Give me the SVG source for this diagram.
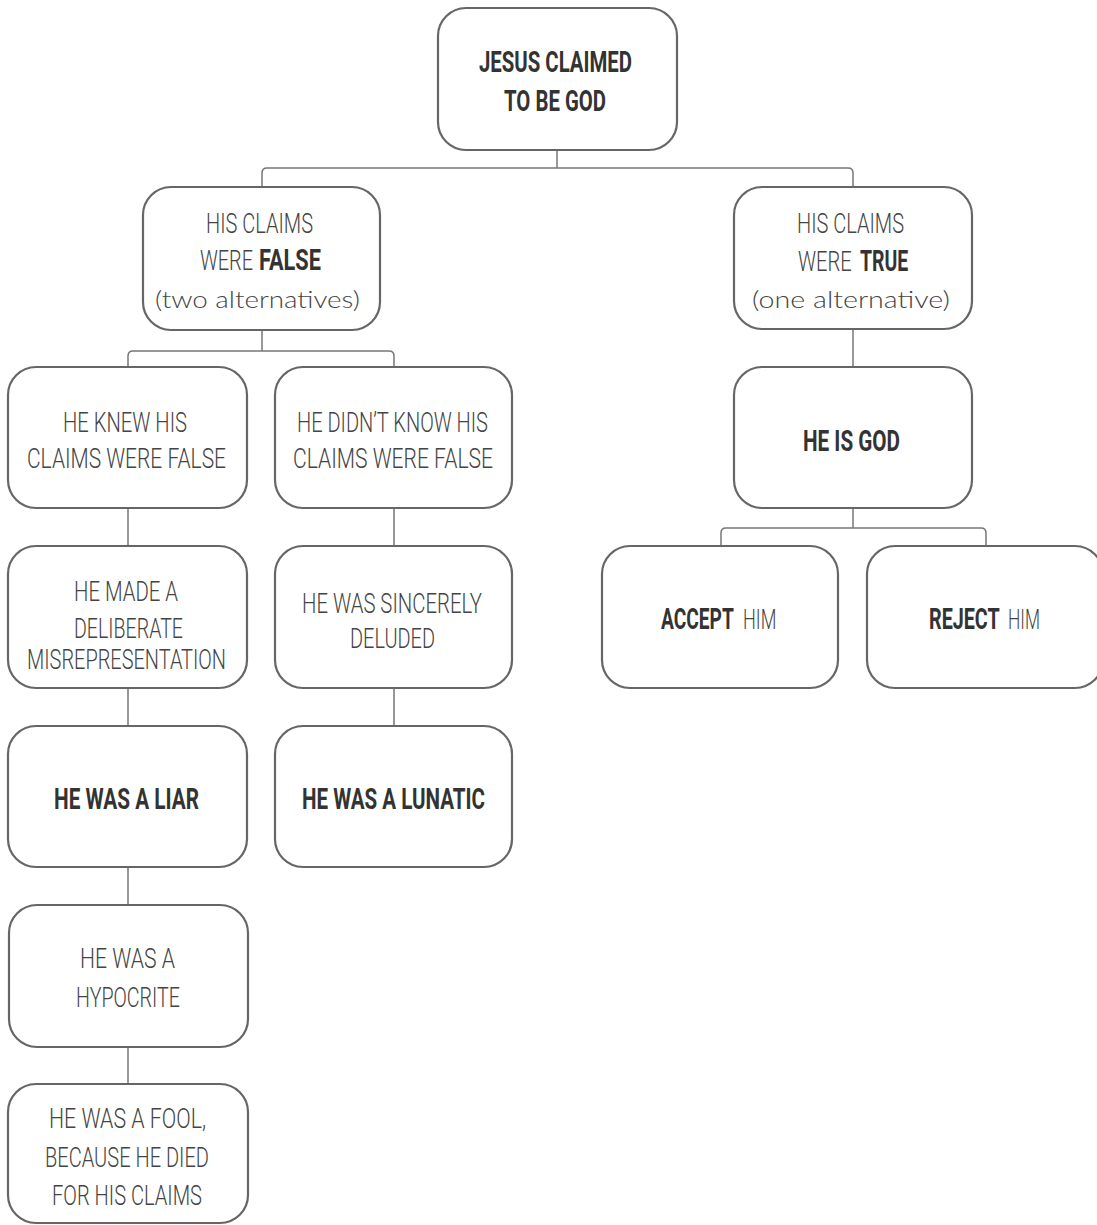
<svg xmlns="http://www.w3.org/2000/svg" width="1097" height="1225" viewBox="0 0 1097 1225">
<style>
.box{fill:#fff;stroke:#666;stroke-width:2.2}
.c{fill:none;stroke:#777;stroke-width:1.5}
.b{font-family:"Roboto","Liberation Sans",sans-serif;font-weight:700;font-size:29px;fill:#333}
.l{font-family:"Roboto","Liberation Sans",sans-serif;font-weight:300;font-size:28px;fill:#444}
.p{font-family:"Lato","Noto Sans",sans-serif;font-weight:300;font-size:23px;fill:#444}
</style>
<rect width="1097" height="1225" fill="#fff"/>
<g id="connectors">
<path class="c" d="M557,150 V168"/>
<path class="c" d="M262,187 V173 Q262,168 267,168 H848 Q853,168 853,173 V187"/>
<path class="c" d="M262,330 V351"/>
<path class="c" d="M128,367 V356 Q128,351 133,351 H389 Q394,351 394,356 V367"/>
<path class="c" d="M853,329 V367"/>
<path class="c" d="M853,508 V528"/>
<path class="c" d="M721,546 V533 Q721,528 726,528 H981 Q986,528 986,533 V546"/>
<path class="c" d="M128,508 V546 M128,688 V726 M128,867 V905 M128,1047 V1084"/>
<path class="c" d="M394,508 V546 M394,688 V726"/>
</g>
<g id="n-claimed"><rect class="box" x="438" y="8" width="239" height="142" rx="28"/>
<text class="b" x="479" y="72" textLength="153" lengthAdjust="spacingAndGlyphs">JESUS CLAIMED</text>
<text class="b" x="504" y="111" textLength="102" lengthAdjust="spacingAndGlyphs">TO BE GOD</text></g>
<g id="n-false"><rect class="box" x="143" y="187" width="237" height="143" rx="28"/>
<text class="l" x="206" y="233" textLength="107" lengthAdjust="spacingAndGlyphs">HIS CLAIMS</text>
<text class="l" transform="translate(200,270) scale(0.68,1)" textLength="78" lengthAdjust="spacingAndGlyphs">WERE</text>
<text class="b" transform="translate(259,270) scale(0.68,1)" textLength="91" lengthAdjust="spacingAndGlyphs">FALSE</text>
<text class="p" x="155" y="308" textLength="205" lengthAdjust="spacingAndGlyphs">(two alternatives)</text></g>
<g id="n-true"><rect class="box" x="734" y="187" width="238" height="142" rx="28"/>
<text class="l" x="797" y="233" textLength="107" lengthAdjust="spacingAndGlyphs">HIS CLAIMS</text>
<text class="l" transform="translate(798,271) scale(0.68,1)" textLength="79" lengthAdjust="spacingAndGlyphs">WERE</text>
<text class="b" transform="translate(860,271) scale(0.68,1)" textLength="71" lengthAdjust="spacingAndGlyphs">TRUE</text>
<text class="p" x="752" y="308" textLength="198" lengthAdjust="spacingAndGlyphs">(one alternative)</text></g>
<g id="n-knew"><rect class="box" x="8" y="367" width="239" height="141" rx="28"/>
<text class="l" x="63" y="432" textLength="124" lengthAdjust="spacingAndGlyphs">HE KNEW HIS</text>
<text class="l" x="27" y="468" textLength="199" lengthAdjust="spacingAndGlyphs">CLAIMS WERE FALSE</text></g>
<g id="n-didnt"><rect class="box" x="275" y="367" width="237" height="141" rx="28"/>
<text class="l" x="297" y="432" textLength="191" lengthAdjust="spacingAndGlyphs">HE DIDN’T KNOW HIS</text>
<text class="l" x="293" y="468" textLength="200" lengthAdjust="spacingAndGlyphs">CLAIMS WERE FALSE</text></g>
<g id="n-god"><rect class="box" x="734" y="367" width="238" height="141" rx="28"/>
<text class="b" x="803" y="451" textLength="97" lengthAdjust="spacingAndGlyphs">HE IS GOD</text></g>
<g id="n-made"><rect class="box" x="8" y="546" width="239" height="142" rx="28"/>
<text class="l" x="74" y="601" textLength="104" lengthAdjust="spacingAndGlyphs">HE MADE A</text>
<text class="l" x="74" y="638" textLength="109" lengthAdjust="spacingAndGlyphs">DELIBERATE</text>
<text class="l" x="27" y="669" textLength="199" lengthAdjust="spacingAndGlyphs">MISREPRESENTATION</text></g>
<g id="n-sincere"><rect class="box" x="275" y="546" width="237" height="142" rx="28"/>
<text class="l" x="302" y="613" textLength="180" lengthAdjust="spacingAndGlyphs">HE WAS SINCERELY</text>
<text class="l" x="350" y="648" textLength="85" lengthAdjust="spacingAndGlyphs">DELUDED</text></g>
<g id="n-accept"><rect class="box" x="602" y="546" width="236" height="142" rx="28"/>
<text class="b" transform="translate(661,629) scale(0.68,1)" textLength="107" lengthAdjust="spacingAndGlyphs">ACCEPT</text>
<text class="l" transform="translate(743,629) scale(0.68,1)" textLength="49" lengthAdjust="spacingAndGlyphs">HIM</text></g>
<g id="n-reject"><rect class="box" x="867" y="546" width="236" height="142" rx="28"/>
<text class="b" transform="translate(929,629) scale(0.68,1)" textLength="104" lengthAdjust="spacingAndGlyphs">REJECT</text>
<text class="l" transform="translate(1008,629) scale(0.68,1)" textLength="47" lengthAdjust="spacingAndGlyphs">HIM</text></g>
<g id="n-liar"><rect class="box" x="8" y="726" width="239" height="141" rx="28"/>
<text class="b" x="54" y="809" textLength="145" lengthAdjust="spacingAndGlyphs">HE WAS A LIAR</text></g>
<g id="n-lunatic"><rect class="box" x="275" y="726" width="237" height="141" rx="28"/>
<text class="b" x="302" y="809" textLength="183" lengthAdjust="spacingAndGlyphs">HE WAS A LUNATIC</text></g>
<g id="n-hypocrite"><rect class="box" x="9" y="905" width="239" height="142" rx="28"/>
<text class="l" x="80" y="968" textLength="95" lengthAdjust="spacingAndGlyphs">HE WAS A</text>
<text class="l" x="76" y="1007" textLength="104" lengthAdjust="spacingAndGlyphs">HYPOCRITE</text></g>
<g id="n-fool"><rect class="box" x="8" y="1084" width="240" height="139" rx="28"/>
<text class="l" x="49" y="1128" textLength="157" lengthAdjust="spacingAndGlyphs">HE WAS A FOOL,</text>
<text class="l" x="45" y="1167" textLength="164" lengthAdjust="spacingAndGlyphs">BECAUSE HE DIED</text>
<text class="l" x="52" y="1205" textLength="150" lengthAdjust="spacingAndGlyphs">FOR HIS CLAIMS</text></g>
</svg>
